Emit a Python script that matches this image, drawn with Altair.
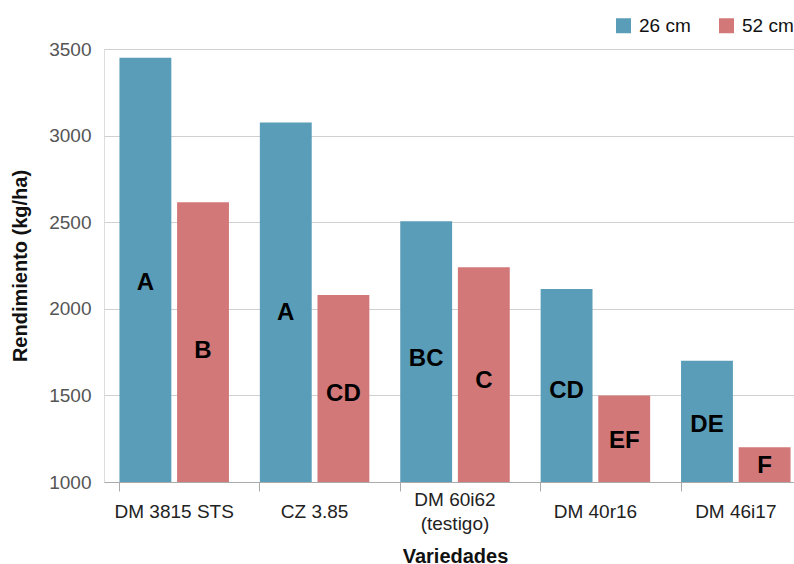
import altair as alt
import pandas as pd

# Yield per variety at two row spacings, with significance letters
variedades = ["DM 3815 STS", "CZ 3.85", "DM 60i62\n(testigo)", "DM 40r16", "DM 46i17"]
rend_26 = [3450, 3075, 2505, 2115, 1700]
rend_52 = [2615, 2080, 2240, 1500, 1200]
letras_26 = ["A", "A", "BC", "CD", "DE"]
letras_52 = ["B", "CD", "C", "EF", "F"]
series = ["26 cm", "52 cm"]
ticks_y = [1000, 1500, 2000, 2500, 3000, 3500]

rows = []
for i, v in enumerate(variedades):
    rows.append({"variedad": v, "dist": series[0], "rend": rend_26[i], "letra": letras_26[i]})
    rows.append({"variedad": v, "dist": series[1], "rend": rend_52[i], "letra": letras_52[i]})
df = pd.DataFrame(rows)

FONT = "Liberation Sans"

# the band axis runs a little past the right edge of the canvas
x_scale = alt.Scale(paddingInner=0.22, paddingOuter=0.11, range=[0, 702])

# two-line labels sit half a line higher so every label block is centred
label_padding = {
    "condition": {"test": "indexof(datum.value, '\\n') >= 0", "value": 8},
    "value": 20,
}

x_enc = alt.X(
    "variedad:N",
    sort=variedades,
    scale=x_scale,
    axis=alt.Axis(
        title="Variedades",
        labelAngle=0,
        labelExpr="split(datum.label, '\\n')",
        labelBaseline="middle",
        labelPadding=label_padding,
        labelLineHeight=24,
        labelFontSize=19,
        labelColor="#222222",
        labelFont=FONT,
        bandPosition=0,
        tickSize=9,
        tickColor="#aaaaaa",
        domainColor="#aaaaaa",
        grid=False,
        titleFontSize=20,
        titleFont=FONT,
        titleFontWeight="bold",
        titleColor="#111111",
        titleY=74,
        titleBaseline="middle",
    ),
)
xoff_enc = alt.XOffset("dist:N", sort=series, scale=alt.Scale(paddingInner=0.1))

y_scale = alt.Scale(domain=[1000, 3500], zero=False, nice=False)

bars = alt.Chart(df).mark_bar().encode(
    x=x_enc,
    xOffset=xoff_enc,
    y=alt.Y(
        "rend:Q",
        scale=y_scale,
        axis=alt.Axis(
            title="Rendimiento (kg/ha)",
            values=ticks_y,
            format="d",
            ticks=False,
            domain=False,
            labelPadding=13,
            labelFontSize=19,
            labelColor="#555555",
            labelFont=FONT,
            gridColor="#d0d0d0",
            gridWidth=1,
            titleFontSize=20,
            titleFont=FONT,
            titleFontWeight="bold",
            titleColor="#111111",
            titlePadding=18,
        ),
    ),
    y2=alt.datum(1000),
    color=alt.Color(
        "dist:N",
        scale=alt.Scale(domain=series, range=["#5a9db8", "#d37878"]),
        legend=alt.Legend(
            title=None,
            orient="none",
            direction="horizontal",
            legendX=510,
            legendY=-33,
            symbolType="square",
            symbolSize=225,
            symbolStrokeWidth=0,
            labelFontSize=19,
            labelFont=FONT,
            labelColor="#111111",
            labelOffset=6,
            columnPadding=26,
        ),
    ),
)

labels = (
    alt.Chart(df)
    .transform_calculate(pos="1000 + (datum.rend - 1000) * 0.47")
    .mark_text(fontSize=24, fontWeight="bold", font=FONT, color="#000000", baseline="middle", align="center")
    .encode(
        x=alt.X("variedad:N", sort=variedades, scale=x_scale),
        xOffset=alt.XOffset("dist:N", sort=series),
        y=alt.Y("pos:Q", scale=y_scale),
        text="letra:N",
    )
)

chart = (
    alt.layer(bars, labels)
    .properties(
        width=690,
        height=433,
        autosize=alt.AutoSizeParams(type="none"),
        padding={"left": 104, "top": 49, "right": 0, "bottom": 82},
    )
    .configure_view(stroke=None)
    .configure(background="white")
)

chart.save("out.html", embed_options={"renderer": "svg", "actions": False})
